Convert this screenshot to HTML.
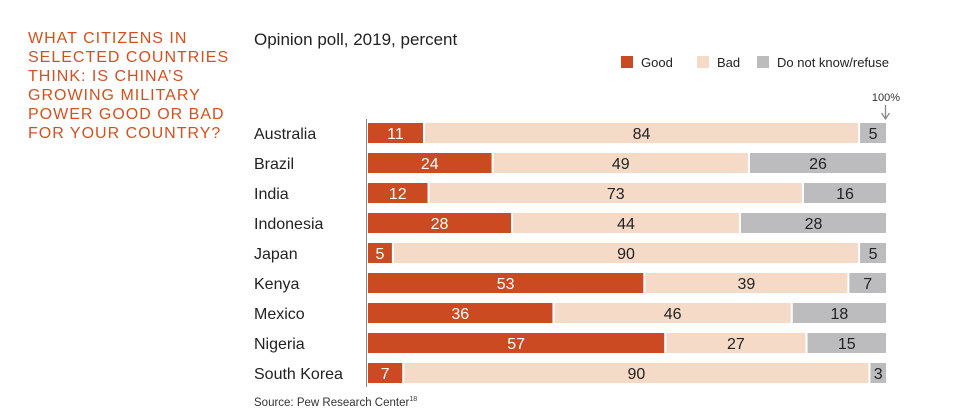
<!DOCTYPE html>
<html><head><meta charset="utf-8"><style>
body{margin:0;width:956px;height:416px;background:#fff;font-family:"Liberation Sans",sans-serif;overflow:hidden;position:relative}
.t{position:absolute}
</style></head><body>
<div class="t" style="left:28px;top:29px;color:#d4511f;font-size:16px;line-height:19px;letter-spacing:1px">WHAT CITIZENS IN<br>SELECTED COUNTRIES<br>THINK: IS CHINA’S<br>GROWING MILITARY<br>POWER GOOD OR BAD<br>FOR YOUR COUNTRY?</div>
<div class="t" style="left:254px;top:30px;font-size:17px;color:#222">Opinion poll, 2019, percent</div>
<div class="t" style="left:254px;top:396px;font-size:11.5px;color:#333">Source: Pew Research Center<sup style="font-size:7px">18</sup></div>
<svg id="c" width="956" height="416" style="position:absolute;left:0;top:0"></svg>
<script>
const countries=["Australia","Brazil","India","Indonesia","Japan","Kenya","Mexico","Nigeria","South Korea"];
const good=[11,24,12,28,5,53,36,57,7];
const bad=[84,49,73,44,90,39,46,27,90];
const dk=[5,26,16,28,5,7,18,15,3];
const seriesNames=["Good","Bad","Do not know/refuse"];
const colors=["#cc4a22","#f6dac8","#bcbcbe"];
const NS="http://www.w3.org/2000/svg";
const svg=document.getElementById('c');
const x0=368,x1=886,top0=123,pitch=30,bh=20;
function mk(t,a){const e=document.createElementNS(NS,t);for(const k in a)e.setAttribute(k,a[k]);svg.appendChild(e);return e;}
function xs(v,total){return v/total*(x1-x0);}
const ax=mk('line',{x1:366.5,x2:366.5,y1:119,y2:387,stroke:'#888','stroke-width':1});


countries.forEach((c,i)=>{
 const y=top0+i*pitch;
 const lab=mk('text',{x:254,y:y+bh/2+6,'font-size':16,fill:'#222'});lab.textContent=c;
 
 
 const vals=[good[i],bad[i],dk[i]];const tot=vals.reduce((a,b)=>a+b,0);
 let x=x0;
 vals.forEach((v,j)=>{
  const w=xs(v,tot);
  const r=mk('rect',{x:x,y:y,width:Math.max(0,w-(j<2?2:0)),height:bh,fill:colors[j]});
  
  
  const t=mk('text',{x:x+(w-(j<2?2:0))/2,y:y+bh/2+6,'font-size':16,'text-anchor':'middle',fill:j==0?'#fff':'#222'});
  t.textContent=v;
  
  
  x+=w;
 });
});
const lx=[621,697,757];
seriesNames.forEach((n,j)=>{
 const r=mk('rect',{x:lx[j],y:56,width:12,height:12,fill:colors[j]});
 
 
 const t=mk('text',{x:lx[j]+20,y:67,'font-size':13,fill:'#222'});t.textContent=n;
 
 
});
const p=mk('text',{x:886,y:101,'font-size':11,'text-anchor':'middle',fill:'#333'});p.textContent='100%';


const ar=mk('line',{x1:885.5,x2:885.5,y1:105,y2:118,stroke:'#888','stroke-width':1.3});


const ah=mk('path',{d:'M881.5 113 L885.5 119 L889.5 113',fill:'none',stroke:'#888','stroke-width':1.3});


</script>
</body></html>
